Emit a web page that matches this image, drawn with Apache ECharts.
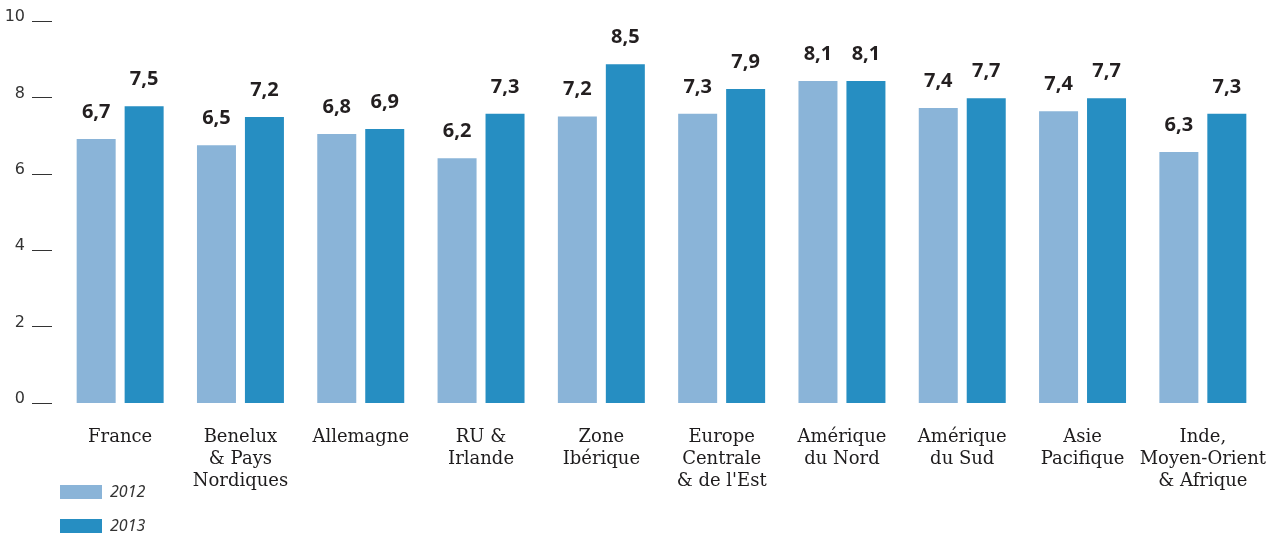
<!DOCTYPE html>
<html>
<head>
<meta charset="utf-8">
<script src="https://cdn.jsdelivr.net/npm/echarts@6/dist/echarts.min.js"></script>
<style>
  html, body { margin: 0; padding: 0; background: #ffffff; }
  #chart { width: 1281px; height: 534px; }
</style>
</head>
<body>
<div id="chart"></div>
<script>
const categories = [
    "France",
    "Benelux\n& Pays\nNordiques",
    "Allemagne",
    "RU &\nIrlande",
    "Zone\nIbérique",
    "Europe\nCentrale\n& de l'Est",
    "Amérique\ndu Nord",
    "Amérique\ndu Sud",
    "Asie\nPacifique",
    "Inde,\nMoyen-Orient\n& Afrique"
];

// bar heights as drawn in the picture
const bars2012 = [6.91, 6.75, 7.04, 6.41, 7.5, 7.57, 8.43, 7.72, 7.64, 6.57];
const bars2013 = [7.77, 7.49, 7.17, 7.57, 8.87, 8.22, 8.43, 7.98, 7.98, 7.57];

// printed value labels
const labels2012 = ["6,7", "6,5", "6,8", "6,2", "7,2", "7,3", "8,1", "7,4", "7,4", "6,3"];
const labels2013 = ["7,5", "7,2", "6,9", "7,3", "8,5", "7,9", "8,1", "7,7", "7,7", "7,3"];

const chart = echarts.init(document.getElementById("chart"));

const valueLabel = (texts) => ({
    show: true,
    position: "top",
    distance: 17,
    color: "#231f20",
    fontFamily: "Open Sans",
    fontWeight: "bold",
    fontSize: 20,
    formatter: (p) => texts[p.dataIndex]
});

const option = {
    backgroundColor: "#ffffff",
    animation: false,
    color: ["#8ab4d8", "#268ec2"],
    grid: {
        left: 60,
        right: 18,
        top: 21,
        bottom: 131
    },
    legend: {
        orient: "vertical",
        left: 60,
        top: 484,
        height: 60,
        padding: 0,
        icon: "rect",
        itemWidth: 42,
        itemHeight: 14,
        itemGap: 18,
        textStyle: {
            fontFamily: "Noto Sans",
            fontStyle: "italic",
            fontSize: 16,
            lineHeight: 14,
            color: "#333333",
            padding: [0, 0, 0, 3]
        },
        data: ["2012", "2013"]
    },
    xAxis: {
        type: "category",
        data: categories,
        axisLine: { show: false },
        axisTick: { show: false },
        axisLabel: {
            margin: 23,
            interval: 0,
            color: "#1e1c1d",
            fontFamily: "DejaVu Serif",
            fontSize: 18,
            lineHeight: 22
        }
    },
    yAxis: {
        type: "value",
        min: 0,
        max: 10,
        interval: 2,
        offset: 8,
        splitLine: { show: false },
        axisLine: { show: false },
        axisTick: {
            show: true,
            length: 20,
            lineStyle: { color: "#333333", width: 1 }
        },
        axisLabel: {
            margin: 27,
            color: "#333333",
            fontFamily: "DejaVu Sans",
            fontSize: 16,
            verticalAlign: "bottom",
            lineHeight: 8
        }
    },
    series: [
        {
            name: "2012",
            type: "bar",
            barWidth: 39,
            barGap: "23%",
            data: bars2012,
            label: valueLabel(labels2012)
        },
        {
            name: "2013",
            type: "bar",
            barWidth: 39,
            data: bars2013,
            label: valueLabel(labels2013)
        }
    ]
};

chart.setOption(option);
</script>
</body>
</html>
